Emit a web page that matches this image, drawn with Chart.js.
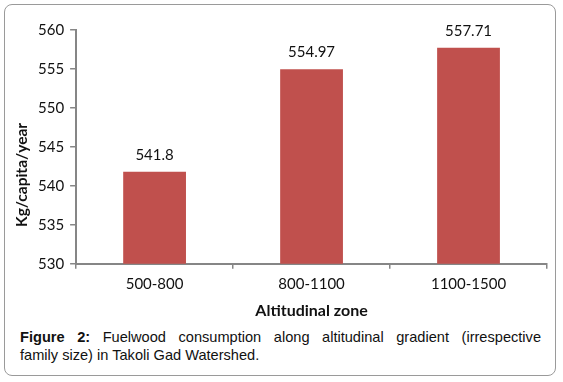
<!DOCTYPE html>
<html>
<head>
<meta charset="utf-8">
<script src="https://cdn.jsdelivr.net/npm/chart.js@4/dist/chart.umd.min.js"></script>
<style>
  html, body { margin: 0; padding: 0; background: #fff; width: 563px; height: 382px; overflow: hidden; }
  #frame { position: absolute; left: 4px; top: 4px; width: 552px; height: 372px; border: 1px solid #9a9a9a; border-radius: 8px; box-sizing: border-box; }
  #wrap { position: absolute; left: 0; top: 0; width: 563px; height: 325px; }
  #caption { position: absolute; left: 20px; top: 328px; width: 521px; font-family: "Liberation Sans", Arial, sans-serif; font-size: 14.6px; line-height: 18px; color: #111; }
  #caption .l1 { display: block; text-align: justify; text-align-last: justify; }
  #caption .l2 { display: block; text-align: left; }
</style>
</head>
<body>
<div id="frame"></div>
<div id="wrap"><canvas id="c" width="563" height="325"></canvas></div>
<div id="caption"><span class="l1"><b>Figure 2:</b> Fuelwood consumption along altitudinal gradient (irrespective</span><span class="l2">family size) in Takoli Gad Watershed.</span></div>
<script>
const categories = ["500-800", "800-1100", "1100-1500"];
const values = [541.8, 554.97, 557.71];
const valueLabels = ["541.8", "554.97", "557.71"];
const yTicks = [530, 535, 540, 545, 550, 555, 560];
const yTitle = "Kg/capita/year";
const xTitle = "Altitudinal zone";

const FONT = "Lato, 'Open Sans', sans-serif";
const AXIS = "#868686";

const labelPlugin = {
  id: "valueLabels",
  afterDatasetsDraw(chart) {
    const ctx = chart.ctx;
    const meta = chart.getDatasetMeta(0);
    ctx.save();
    ctx.font = "15px " + FONT;
    ctx.fillStyle = "#111";
    ctx.textAlign = "center";
    ctx.textBaseline = "middle";
    meta.data.forEach((el, i) => {
      ctx.fillText(valueLabels[i], el.x, el.y - 17);
    });
    const area = chart.chartArea;
    ctx.translate(22, area.top + (area.bottom - area.top) * 0.62);
    ctx.rotate(-Math.PI / 2);
    ctx.font = "bold 15.5px " + FONT;
    ctx.fillText(yTitle, 0, 0);
    ctx.restore();
  }
};

new Chart(document.getElementById("c"), {
  type: "bar",
  data: {
    labels: categories,
    datasets: [{
      data: values,
      backgroundColor: "#C0504D",
      borderWidth: 0,
      barPercentage: 0.4,
      categoryPercentage: 1.0
    }]
  },
  options: {
    responsive: false,
    animation: false,
    layout: { padding: { left: 32, right: 16, top: 30, bottom: 5 } },
    plugins: { legend: { display: false }, tooltip: { enabled: false } },
    scales: {
      y: {
        min: 530, max: 560,
        afterBuildTicks(axis) { axis.ticks = yTicks.map(v => ({ value: v })); },
        grid: { drawOnChartArea: false, color: AXIS, tickLength: 6, lineWidth: 1.5 },
        border: { color: AXIS, width: 2 },
        ticks: { color: "#111", font: { family: FONT, size: 15 }, padding: 6 }
      },
      x: {
        grid: { drawOnChartArea: false, color: AXIS, tickLength: 5, lineWidth: 1.5, offset: true },
        border: { color: AXIS, width: 2 },
        ticks: { color: "#111", font: { family: FONT, size: 15 }, padding: 6 },
        title: { display: true, text: xTitle, color: "#111", font: { family: FONT, size: 16, weight: "bold" }, padding: { top: 2, bottom: 0 } }
      }
    }
  },
  plugins: [labelPlugin]
});
</script>
</body>
</html>
